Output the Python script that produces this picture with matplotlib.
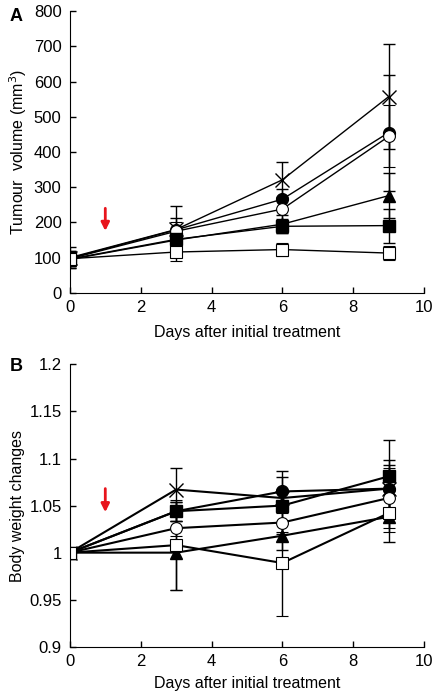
import matplotlib.pyplot as plt

plt.rcParams['font.family'] = ['Liberation Sans', 'DejaVu Sans']
plt.rcParams['font.size'] = 11.5

days = [0, 3, 6, 9]

# panel A: tumour volume (mm3)
vol_cross = [100, 180, 321, 557]
vol_fcirc = [98, 179, 266, 455]
vol_ocirc = [97, 175, 238, 444]
vol_ftri = [95, 150, 195, 276]
vol_fsq = [96, 152, 189, 191]
vol_osq = [97, 116, 123, 113]
err_cross = [30, 67, 50, 149]
err_fcirc = [22, 34, 30, 165]
err_ocirc = [20, 25, 30, 88]
err_ftri = [25, 20, 25, 64]
err_fsq = [20, 20, 20, 48]
err_osq = [18, 25, 18, 19]

# panel B: body weight changes
bw_cross = [1, 1.067, 1.058, 1.068]
bw_fcirc = [1, 1.044, 1.065, 1.068]
bw_ocirc = [1, 1.026, 1.032, 1.058]
bw_ftri = [1, 1.0, 1.018, 1.038]
bw_fsq = [1, 1.044, 1.050, 1.081]
bw_osq = [1, 1.008, 0.989, 1.042]
bwe_cross = [0, 0.023, 0.01, 0.025]
bwe_fcirc = [0, 0.01, 0.022, 0.030]
bwe_ocirc = [0, 0.008, 0.01, 0.032]
bwe_ftri = [0, 0.04, 0.015, 0.027]
bwe_fsq = [0, 0.01, 0.03, 0.039]
bwe_osq = [0, 0.048, 0.056, 0.02]

styles = [
    dict(marker='x', ms=10, mfc='none', mew=1.0),
    dict(marker='o', ms=8.5, mfc='black', mew=1.0),
    dict(marker='o', ms=8.5, mfc='white', mew=0.8),
    dict(marker='^', ms=8.5, mfc='black', mew=1.0),
    dict(marker='s', ms=8.5, mfc='black', mew=1.0),
    dict(marker='s', ms=8.5, mfc='white', mew=0.8),
]

fig = plt.figure(figsize=(4.34, 6.94), dpi=100)
axA = fig.add_axes([0.161, 0.578, 0.816, 0.406])
axB = fig.add_axes([0.161, 0.068, 0.816, 0.407])


def draw(ax, series, errs, lw, xpad):
    for y, e, st in zip(series, errs, styles):
        ax.errorbar(days, y, yerr=e, color='black', mec='black', lw=lw,
                    elinewidth=1.0, capsize=4, capthick=1.0, **st)
    for s in ['top', 'right']:
        ax.spines[s].set_visible(False)
    ax.tick_params(direction='in', length=4, width=1, labelsize=12)
    ax.tick_params(axis='y', pad=6)
    ax.tick_params(axis='x', pad=5)
    ax.set_xlim(0, 10)
    ax.set_xticks([0, 2, 4, 6, 8, 10])
    ax.set_xlabel('Days after initial treatment', labelpad=xpad)


draw(axA, [vol_cross, vol_fcirc, vol_ocirc, vol_ftri, vol_fsq, vol_osq],
     [err_cross, err_fcirc, err_ocirc, err_ftri, err_fsq, err_osq], 1.0, 7)
axA.set_ylim(0, 800)
axA.set_yticks(range(0, 801, 100))
axA.set_ylabel('Tumour  volume (mm$^3$)', labelpad=3)
axA.annotate('', xy=(1, 168), xytext=(1, 248),
             arrowprops=dict(arrowstyle='-|>', color='#e8141c', lw=2,
                             mutation_scale=12))

draw(axB, [bw_cross, bw_fcirc, bw_ocirc, bw_ftri, bw_fsq, bw_osq],
     [bwe_cross, bwe_fcirc, bwe_ocirc, bwe_ftri, bwe_fsq, bwe_osq], 1.5, 5)
axB.set_ylim(0.9, 1.2)
axB.set_yticks([0.9, 0.95, 1, 1.05, 1.1, 1.15, 1.2])
axB.set_yticklabels(['0.9', '0.95', '1', '1.05', '1.1', '1.15', '1.2'])
axB.set_ylabel('Body weight changes', labelpad=3)
axB.annotate('', xy=(1, 1.040), xytext=(1, 1.071),
             arrowprops=dict(arrowstyle='-|>', color='#e8141c', lw=2,
                             mutation_scale=12))

fig.text(0.023, 0.970, 'A', fontsize=13, fontweight='bold')
fig.text(0.023, 0.466, 'B', fontsize=13, fontweight='bold')

fig.savefig('out.png', dpi=100)
